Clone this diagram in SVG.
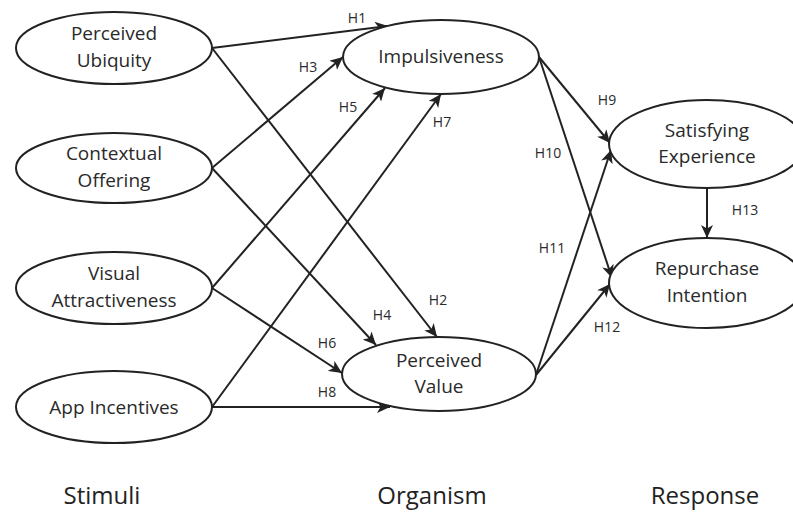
<svg xmlns="http://www.w3.org/2000/svg" width="793" height="514" viewBox="0 0 793 514">
<style>
  .node ellipse { fill: #fff; stroke: #222; stroke-width: 2; }
  .node text { font-family: "Open Sans", "Liberation Sans", sans-serif; font-size: 19px; fill: #2a2a2a; text-anchor: middle; }
  .conn line { stroke: #222; stroke-width: 2; marker-end: url(#arr); }
  .lbl { font-family: "Open Sans", "Liberation Sans", sans-serif; font-size: 14px; fill: #2a2a2a; text-anchor: middle; }
  .sec { font-family: "Open Sans", "Liberation Sans", sans-serif; font-size: 24px; fill: #222; text-anchor: middle; }
</style>
<defs>
  <marker id="arr" markerUnits="userSpaceOnUse" markerWidth="14" markerHeight="12" refX="13" refY="6" orient="auto">
    <path d="M0,0 L13,6 L0,12 L3.5,6 z" fill="#222"/>
  </marker>
</defs>
<rect width="793" height="514" fill="#fff"/>
<g id="connectors" class="conn">
  <line x1="212" y1="48" x2="388" y2="26"/>
  <line x1="212" y1="48" x2="437" y2="337"/>
  <line x1="212" y1="168" x2="343" y2="57"/>
  <line x1="212" y1="168" x2="376" y2="345"/>
  <line x1="212" y1="288" x2="385" y2="88"/>
  <line x1="212" y1="288" x2="342" y2="373"/>
  <line x1="212" y1="407" x2="441" y2="94"/>
  <line x1="212" y1="407" x2="390" y2="407"/>
  <line x1="539" y1="57" x2="610" y2="143"/>
  <line x1="539" y1="57" x2="612" y2="278"/>
  <line x1="536" y1="375" x2="611" y2="150"/>
  <line x1="536" y1="375" x2="610" y2="284"/>
  <line x1="707" y1="188" x2="707" y2="238"/>
</g>
<g id="labels">
  <text class="lbl" x="357" y="23">H1</text>
  <text class="lbl" x="438" y="305">H2</text>
  <text class="lbl" x="308" y="72">H3</text>
  <text class="lbl" x="382" y="320">H4</text>
  <text class="lbl" x="348" y="112">H5</text>
  <text class="lbl" x="327" y="348">H6</text>
  <text class="lbl" x="442" y="127">H7</text>
  <text class="lbl" x="327" y="397">H8</text>
  <text class="lbl" x="607" y="105">H9</text>
  <text class="lbl" x="548" y="158">H10</text>
  <text class="lbl" x="552" y="253">H11</text>
  <text class="lbl" x="607" y="332">H12</text>
  <text class="lbl" x="745" y="215">H13</text>
</g>
<g id="perceived-ubiquity" class="node">
  <ellipse cx="114" cy="48" rx="98" ry="36"/>
  <text x="114" y="40">Perceived</text>
  <text x="114" y="67">Ubiquity</text>
</g>
<g id="contextual-offering" class="node">
  <ellipse cx="114" cy="168" rx="98" ry="35"/>
  <text x="114" y="160">Contextual</text>
  <text x="114" y="187">Offering</text>
</g>
<g id="visual-attractiveness" class="node">
  <ellipse cx="114" cy="288" rx="98" ry="36"/>
  <text x="114" y="280">Visual</text>
  <text x="114" y="307">Attractiveness</text>
</g>
<g id="app-incentives" class="node">
  <ellipse cx="114" cy="407" rx="98" ry="36"/>
  <text x="114" y="414">App Incentives</text>
</g>
<g id="impulsiveness" class="node">
  <ellipse cx="441" cy="57" rx="98" ry="37"/>
  <text x="441" y="63">Impulsiveness</text>
</g>
<g id="perceived-value" class="node">
  <ellipse cx="439" cy="374" rx="97" ry="37"/>
  <text x="439" y="367">Perceived</text>
  <text x="439" y="393">Value</text>
</g>
<g id="satisfying-experience" class="node">
  <ellipse cx="707" cy="144" rx="98" ry="44"/>
  <text x="707" y="137">Satisfying</text>
  <text x="707" y="163">Experience</text>
</g>
<g id="repurchase-intention" class="node">
  <ellipse cx="707" cy="283" rx="98" ry="45"/>
  <text x="707" y="275">Repurchase</text>
  <text x="707" y="302">Intention</text>
</g>
<g id="sections">
  <text class="sec" x="102" y="504">Stimuli</text>
  <text class="sec" x="432" y="504">Organism</text>
  <text class="sec" x="705" y="504">Response</text>
</g>
</svg>
